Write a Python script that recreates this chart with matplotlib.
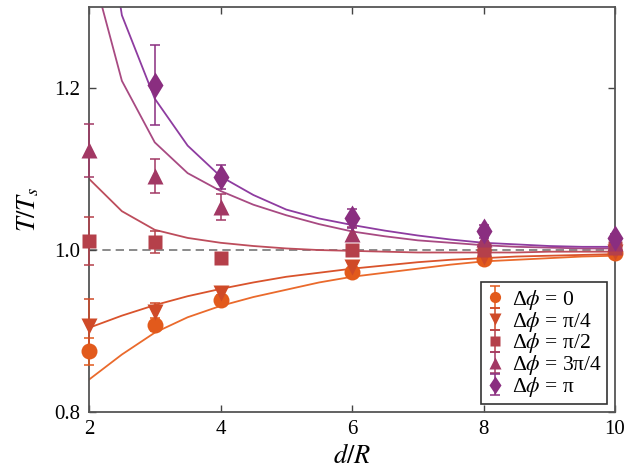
import numpy as np
import matplotlib
matplotlib.use("Agg")
import matplotlib.pyplot as plt

plt.rcParams['font.family'] = ['Liberation Serif', 'DejaVu Serif']
plt.rcParams['mathtext.fontset'] = 'stix'

# measured points
d_pts = [2, 3, 4, 6, 8, 10]
t_0 = [0.875, 0.908, 0.938, 0.973, 0.989, 0.996]
e_0 = [0.017, 0.008, 0.006, 0.005, 0.004, 0.003]
t_q = [0.906, 0.924, 0.947, 0.979, 0.991, 0.997]
e_q = [0.034, 0.011, 0.007, 0.006, 0.004, 0.003]
t_h = [1.011, 1.010, 0.990, 1.000, 1.000, 1.002]
e_h = [0.030, 0.014, 0.006, 0.006, 0.004, 0.003]
t_3q = [1.123, 1.092, 1.053, 1.020, 1.014, 1.009]
e_3q = [0.033, 0.021, 0.016, 0.008, 0.006, 0.004]
t_pi = [np.nan, 1.204, 1.090, 1.039, 1.023, 1.015]
e_pi = [np.nan, 0.049, 0.015, 0.012, 0.008, 0.005]

# theory curves
d_th = [2, 2.5, 3, 3.5, 4, 4.5, 5, 5.5, 6, 6.5, 7, 7.5, 8, 8.5, 9, 9.5, 10]
c_0 = [0.840, 0.871, 0.898, 0.917, 0.931, 0.942, 0.951, 0.960, 0.967, 0.972,
       0.977, 0.982, 0.986, 0.988, 0.990, 0.992, 0.993]
c_q = [0.904, 0.919, 0.932, 0.943, 0.952, 0.960, 0.967, 0.972, 0.977, 0.981,
       0.985, 0.988, 0.990, 0.992, 0.993, 0.994, 0.995]
c_h = [1.088, 1.048, 1.025, 1.015, 1.009, 1.005, 1.002, 1.000, 0.999, 0.998,
       0.997, 0.997, 0.997, 0.997, 0.998, 0.998, 0.998]
c_3q = [1.361, 1.209, 1.133, 1.095, 1.073, 1.056, 1.043, 1.032, 1.023, 1.017,
        1.012, 1.009, 1.006, 1.004, 1.003, 1.002, 1.002]
c_pi = [1.55, 1.29, 1.187, 1.129, 1.091, 1.068, 1.050, 1.039, 1.031, 1.024,
        1.018, 1.013, 1.009, 1.007, 1.005, 1.004, 1.004]

labels = ['Δ$\\phi$ = 0', 'Δ$\\phi$ = π/4', 'Δ$\\phi$ = π/2',
          'Δ$\\phi$ = 3π/4', 'Δ$\\phi$ = π']
pt_colors = ['#e25a1c', '#cf4a28', '#b5404a', '#a23864', '#8a2e80']
ln_colors = ['#ea6a2c', '#d9532c', '#bd4d5c', '#a84a82', '#8e3ca0']
markers = ['o', 'v', 's', '^', 'd']
msizes = [11.5, 11.5, 9.5, 11.5, 13.5]

fig = plt.figure(figsize=(6.25, 4.75), dpi=100)
ax = fig.add_axes([0.1424, 0.1326, 0.8416, 0.8524])

ax.axhline(1.0, color='#777777', lw=1.2, ls=(0, (5, 3)), zorder=1)

curves = [c_0, c_q, c_h, c_3q, c_pi]
for c, col in zip(curves, ln_colors):
    ax.plot(d_th, c, color=col, lw=1.3, zorder=2)

data = [(t_0, e_0), (t_q, e_q), (t_h, e_h), (t_3q, e_3q), (t_pi, e_pi)]
for (t, e), col, m, ms, lab in zip(data, pt_colors, markers, msizes, labels):
    ax.errorbar(d_pts, t, yerr=e, fmt=m, color=col, ms=ms, mec='none',
                capsize=3.6, elinewidth=1.1, capthick=1.1, label=lab,
                zorder=3, clip_on=False)

ax.set_xlim(2, 10)
ax.set_ylim(0.8, 1.3)
ax.set_xticks([2, 4, 6, 8, 10])
ax.set_yticks([0.8, 1.0, 1.2])
ax.set_yticklabels(['0.8', '1.0', '1.2'])
ax.tick_params(direction='in', top=True, right=True, length=5, width=1,
               labelsize=15, color='#444444', pad=6)
for s in ax.spines.values():
    s.set_color('#555555')
    s.set_linewidth(1.3)

ax.set_xlabel('$d/R$', fontsize=19, labelpad=3)
ax.set_ylabel('$T/T_s$', fontsize=19, labelpad=10)

leg = ax.legend(loc='lower right', fontsize=15.5, handlelength=0.8,
                handletextpad=0.4, labelspacing=-0.1, borderpad=0.25,
                fancybox=False, edgecolor='#333333', framealpha=1,
                borderaxespad=0.35, markerscale=0.7)
leg.get_frame().set_linewidth(1.2)

fig.savefig('out.png', dpi=100)
